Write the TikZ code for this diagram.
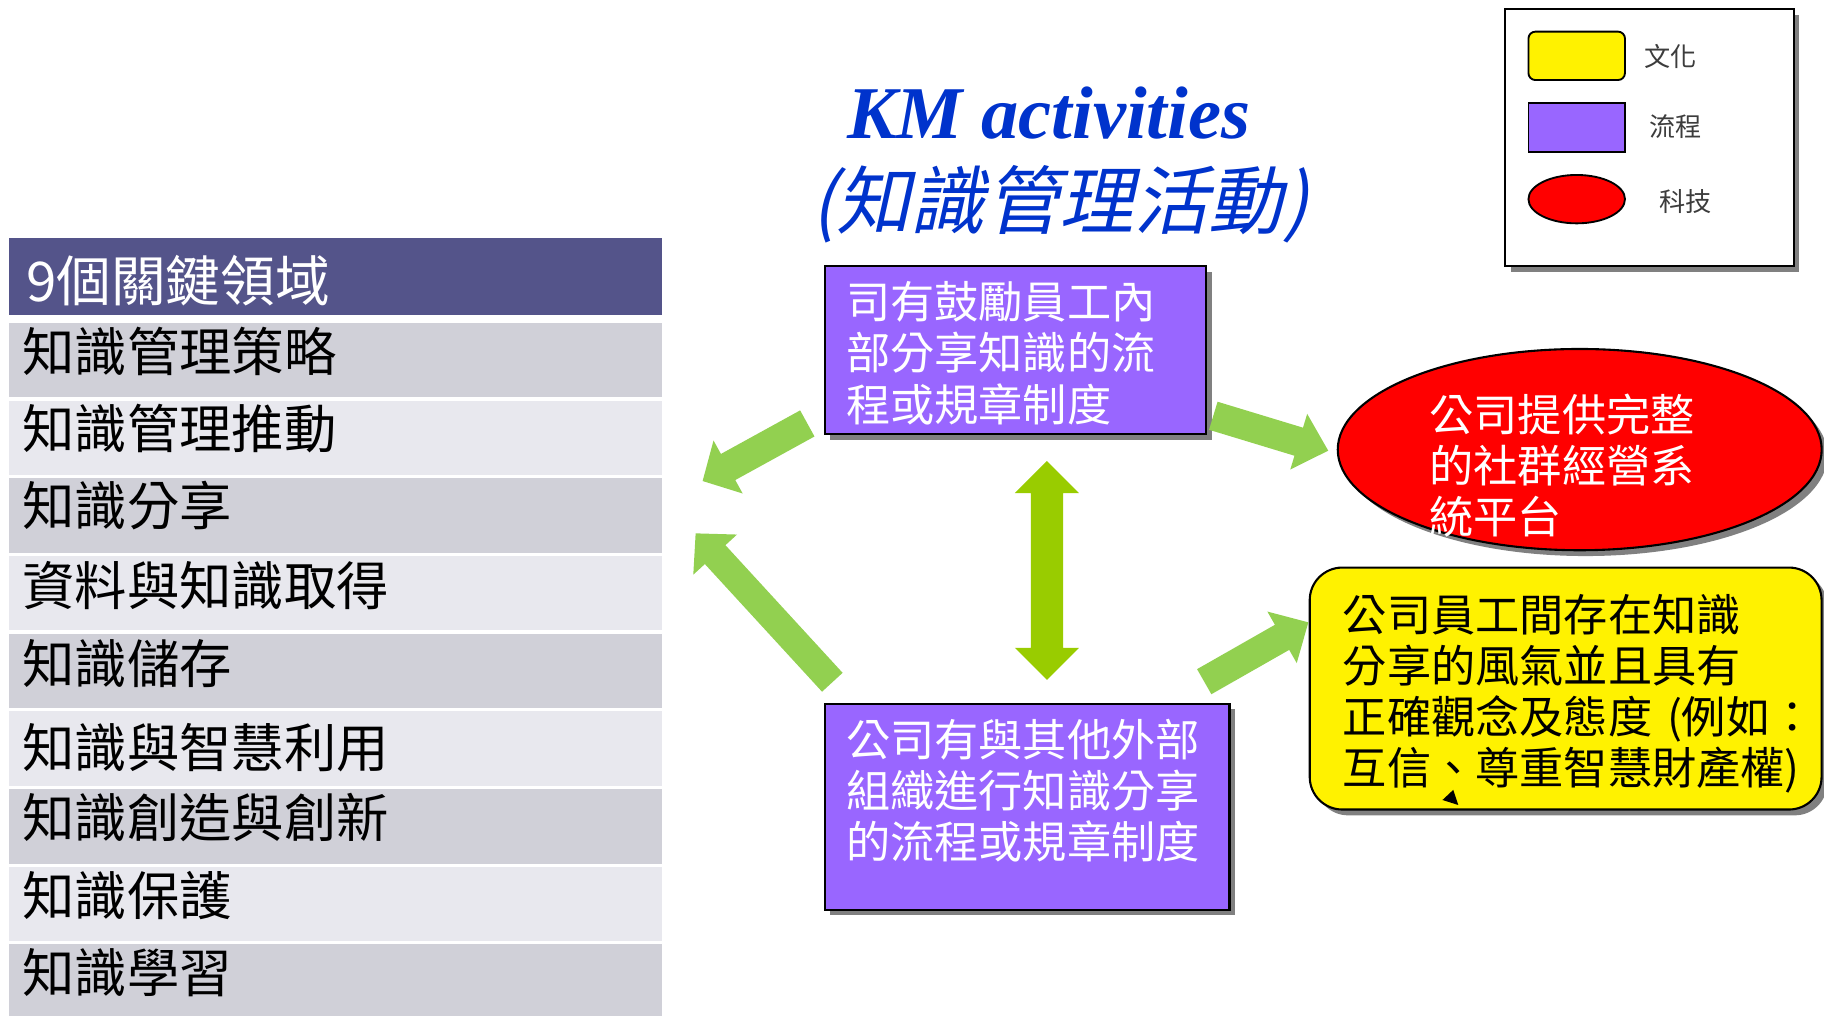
\documentclass[tikz,border=0pt]{standalone}
\usepackage{fontspec}
\newfontfamily\cjk{Noto Sans CJK TC}
\newfontfamily\cjkslant[FakeSlant=0.22]{Noto Sans CJK TC}
\newfontfamily\titlefont{Liberation Serif}
\usetikzlibrary{calc,shapes.geometric,shadows}

\definecolor{hdr}{RGB}{84,84,138}
\definecolor{rowA}{RGB}{208,208,216}
\definecolor{rowB}{RGB}{232,232,238}
\definecolor{procpurple}{RGB}{153,102,255}
\definecolor{arrowgreen}{RGB}{146,208,80}
\definecolor{dblgreen}{RGB}{153,204,0}
\definecolor{titleblue}{RGB}{0,51,204}
\definecolor{shadowgray}{RGB}{128,128,128}
\definecolor{legendtext}{RGB}{60,60,60}

% #1 colour, #2 start, #3 tip, #4 half shaft, #5 half head, #6 head length
\newcommand\blockarrow[6]{%
  \coordinate (ba-h) at ($(#3)!#6!(#2)$);
  \fill[#1] ($(#2)!#4!90:(#3)$) -- ($(ba-h)!#4!90:(#3)$) -- ($(ba-h)!#5!90:(#3)$)
    -- (#3) -- ($(ba-h)!#5!-90:(#3)$) -- ($(ba-h)!#4!-90:(#3)$) -- ($(#2)!#4!-90:(#3)$) -- cycle;}
\newcommand\dblblockarrow[6]{%
  \coordinate (da-h1) at ($(#2)!#6!(#3)$);
  \coordinate (da-h2) at ($(#3)!#6!(#2)$);
  \fill[#1] (#2) -- ($(da-h1)!#5!90:(#3)$) -- ($(da-h1)!#4!90:(#3)$) -- ($(da-h2)!#4!90:(#3)$)
    -- ($(da-h2)!#5!90:(#3)$) -- (#3) -- ($(da-h2)!#5!-90:(#3)$) -- ($(da-h2)!#4!-90:(#3)$)
    -- ($(da-h1)!#4!-90:(#3)$) -- ($(da-h1)!#5!-90:(#3)$) -- cycle;}

\begin{document}
\begin{tikzpicture}[x=0.5pt,y=-0.5pt,
  rowbox/.style={rectangle, anchor=north west, minimum width=280.5pt, minimum height=32pt, inner sep=0pt, outer sep=0pt},
  rowtext/.style={anchor=west, inner sep=0pt, font=\cjk\fontsize{22.5}{27}\selectfont, text=black},
  shadowed/.style={drop shadow={shadow xshift=2.5pt, shadow yshift=-2.5pt, opacity=1, fill=shadowgray}},
  procbox/.style={rectangle, draw=black, line width=0.9pt, fill=procpurple, inner sep=0pt, anchor=north west, shadowed},
  boxtext/.style={anchor=base west, inner sep=0pt, align=left, font=\cjk\fontsize{19}{22}\selectfont},
  legendlabel/.style={inner sep=0pt, font=\cjk\fontsize{11.25}{13}\selectfont, text=legendtext},
  legendkey/.style={draw=black, line width=0.8pt, minimum width=41.5pt, minimum height=20.8pt, inner sep=0pt}]

\useasboundingbox[fill=white] (0,0) rectangle (1568,873);

% ---- table of 9 key areas ----
\node[rowbox, fill=hdr, minimum height=33pt] (hdr) at (8,205) {};
\node[anchor=west, inner sep=0pt, text=white, font=\cjk\fontsize{23.5}{28}\selectfont] (hdrtext) at (22,241) {9個關鍵領域};

\node[rowbox, fill=rowA] (r1) at (8,277.5) {};
\node[rowbox, fill=rowB] (r2) at (8,344.3) {};
\node[rowbox, fill=rowA] (r3) at (8,411.1) {};
\node[rowbox, fill=rowB] (r4) at (8,477.9) {};
\node[rowbox, fill=rowA] (r5) at (8,544.7) {};
\node[rowbox, fill=rowB] (r6) at (8,611.5) {};
\node[rowbox, fill=rowA] (r7) at (8,678.3) {};
\node[rowbox, fill=rowB] (r8) at (8,745.1) {};
\node[rowbox, fill=rowA] (r9) at (8,811.9) {};

\node[rowtext] (t1) at (19,302) {知識管理策略};
\node[rowtext] (t2) at (19,368) {知識管理推動};
\node[rowtext] (t3) at (19,435) {知識分享};
\node[rowtext] (t4) at (19,503) {資料與知識取得};
\node[rowtext] (t5) at (19,570) {知識儲存};
\node[rowtext] (t6) at (19,643) {知識與智慧利用};
\node[rowtext] (t7) at (19,703) {知識創造與創新};
\node[rowtext] (t8) at (19,770) {知識保護};
\node[rowtext] (t9) at (19,836) {知識學習};

% ---- title ----
\node[anchor=base, inner sep=0pt, text=titleblue, font=\titlefont\bfseries\itshape\fontsize{32}{38}\selectfont] (title) at (901.5,119) {KM activities};
\node[anchor=base, inner sep=0pt, text=titleblue, font=\cjkslant\fontsize{32}{38}\selectfont] (subtitle) at (911,196) {(知識管理活動)};

% ---- legend ----
\node[draw=black, line width=0.9pt, fill=white, shadowed, anchor=north west, minimum width=124pt, minimum height=110.5pt, inner sep=0pt] (legend) at (1293,7) {};
\node[legendkey, fill=yellow, rounded corners=3pt] (kcult) at (1355.4,48) {};
\node[legendkey, fill=procpurple] (kproc) at (1355.4,109.6) {};
\node[legendkey, fill=red, ellipse] (ktech) at (1355.4,171.2) {};
\node[legendlabel] (lcult) at (1436,48.7) {文化};
\node[legendlabel] (lproc) at (1440.6,108.9) {流程};
\node[legendlabel] (ltech) at (1449,173.4) {科技};

% ---- main shapes ----
\node[procbox, minimum width=164pt, minimum height=72pt] (topbox) at (708,228) {};
\node[boxtext, text=white, text width=150pt] (toptext) at (727,274) {司有鼓勵員工內\\部分享知識的流\\程或規章制度};

\node[procbox, minimum width=174pt, minimum height=88.5pt] (botbox) at (708,604) {};
\node[boxtext, text=white, text width=165pt] (bottext) at (727,650.4) {公司有與其他外部\\組織進行知識分享\\的流程或規章制度};

\node[ellipse, draw=black, line width=0.9pt, fill=red, shadowed, minimum width=208pt, minimum height=86.5pt, inner sep=0pt] (tech) at (1358,386.5) {};
\node[boxtext, text=white, text width=130pt] (techtext) at (1228.5,371) {公司提供完整\\的社群經營系\\統平台};

\node[rectangle, rounded corners=14pt, draw=black, line width=0.9pt, fill=yellow, shadowed, anchor=north west, minimum width=220pt, minimum height=104pt, inner sep=0pt] (culture) at (1125,487) {};
\node[boxtext, text=black, text width=215pt] (culttext) at (1154,542.5) {公司員工間存在知識\\分享的風氣並且具有\\正確觀念及態度 (例如：\\互信、尊重智慧財產權)};
\fill[black] (1240,687.7) -- (1249.3,679) -- (1253.6,692) -- cycle;

% ---- arrows ----
\coordinate (a1s) at (694,364);
\coordinate (a1e) at (604,413.5);
\coordinate (a2s) at (715.5,586.5);
\coordinate (a2e) at (598,458.5);
\coordinate (a3s) at (1043,357.4);
\coordinate (a3e) at (1141.8,387.4);
\coordinate (a4s) at (1035.2,586);
\coordinate (a4e) at (1124.7,535);
\coordinate (a5s) at (900,396.3);
\coordinate (a5e) at (900,584.5);

\blockarrow{arrowgreen}{a1s}{a1e}{6.4pt}{13pt}{12.5pt}
\blockarrow{arrowgreen}{a2s}{a2e}{6pt}{12.75pt}{12.4pt}
\blockarrow{arrowgreen}{a3s}{a3e}{6.3pt}{12.5pt}{13.25pt}
\blockarrow{arrowgreen}{a4s}{a4e}{6.2pt}{12.75pt}{13pt}
\dblblockarrow{dblgreen}{a5s}{a5e}{6.9pt}{13.75pt}{13.75pt}
\end{tikzpicture}
\end{document}
